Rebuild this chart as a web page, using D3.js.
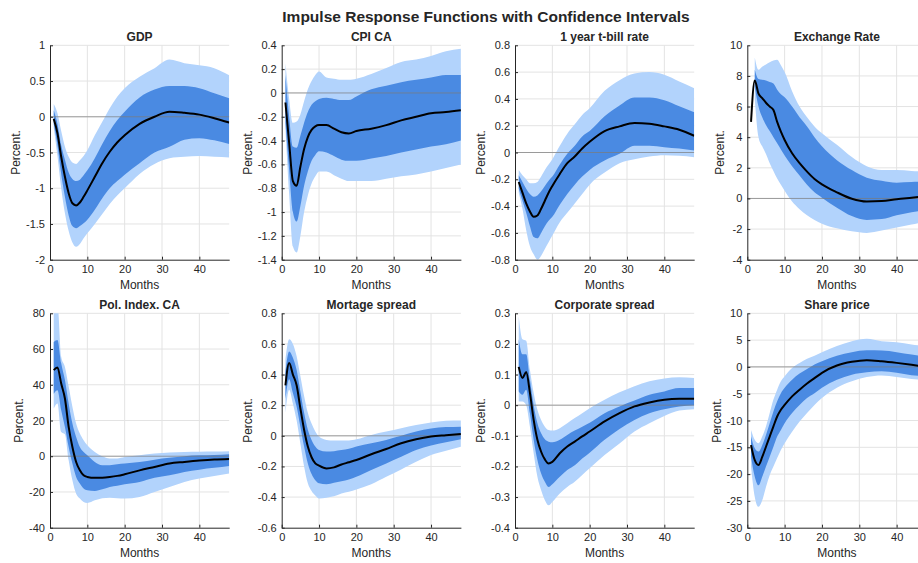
<!DOCTYPE html>
<html><head><meta charset="utf-8">
<script src="https://cdn.jsdelivr.net/npm/d3@7"></script>
<style>body{margin:0;background:#fff} svg{display:block;font-family:"Liberation Sans",Arial,Helvetica,sans-serif}</style>
</head><body><svg id="c" width="918" height="563"></svg>
<script>
// ---------- DATA ----------
const mainTitle = "Impulse Response Functions with Confidence Intervals";
const months = [1,2,3,4,5,6,7,8,9,10,12,14,16,18,20,24,28,32,36,40,44,48];
const xTicks = [0,10,20,30,40];
const titles = ["GDP","CPI CA","1 year t-bill rate","Exchange Rate","Pol. Index. CA","Mortage spread","Corporate spread","Share price"];

const gdpTicks = [-2,-1.5,-1,-0.5,0,0.5,1];
const gdpMed = [-0.03,-0.23,-0.56,-0.84,-1.07,-1.21,-1.24,-1.2,-1.12,-1.03,-0.84,-0.65,-0.49,-0.36,-0.26,-0.1,0.0,0.07,0.055,0.03,-0.02,-0.08];
const gdpOU = [0.18,0.05,-0.2,-0.42,-0.56,-0.64,-0.66,-0.61,-0.55,-0.47,-0.26,-0.07,0.12,0.28,0.4,0.56,0.68,0.8,0.75,0.72,0.68,0.58];
const gdpIU = [0.09,-0.1,-0.4,-0.6,-0.78,-0.87,-0.9,-0.88,-0.82,-0.75,-0.58,-0.38,-0.2,-0.05,0.07,0.27,0.38,0.43,0.43,0.4,0.33,0.26];
const gdpIL = [-0.1,-0.4,-0.8,-1.12,-1.38,-1.53,-1.56,-1.53,-1.49,-1.44,-1.3,-1.14,-1.0,-0.9,-0.81,-0.65,-0.5,-0.42,-0.32,-0.3,-0.33,-0.38];
const gdpOL = [-0.15,-0.55,-1.0,-1.35,-1.6,-1.76,-1.82,-1.78,-1.7,-1.63,-1.5,-1.36,-1.22,-1.1,-1.0,-0.8,-0.66,-0.58,-0.56,-0.55,-0.56,-0.57];

const cpiTicks = [-1.4,-1.2,-1,-0.8,-0.6,-0.4,-0.2,0,0.2,0.4];
const cpiMed = [-0.08,-0.42,-0.74,-0.78,-0.62,-0.47,-0.37,-0.31,-0.28,-0.27,-0.27,-0.3,-0.33,-0.34,-0.32,-0.3,-0.27,-0.23,-0.2,-0.17,-0.16,-0.145];
const cpiOU = [0.25,-0.05,-0.25,-0.24,-0.18,-0.07,0.03,0.1,0.15,0.18,0.13,0.12,0.11,0.11,0.12,0.16,0.21,0.26,0.28,0.31,0.35,0.37];
const cpiIU = [0.15,-0.2,-0.45,-0.46,-0.36,-0.25,-0.16,-0.1,-0.07,-0.05,-0.04,-0.05,-0.06,-0.06,-0.03,0.03,0.06,0.09,0.11,0.13,0.15,0.15];
const cpiIL = [-0.25,-0.65,-1.0,-1.08,-0.95,-0.78,-0.66,-0.57,-0.52,-0.49,-0.5,-0.53,-0.56,-0.57,-0.57,-0.55,-0.53,-0.5,-0.475,-0.45,-0.43,-0.4];
const cpiOL = [-0.3,-0.85,-1.29,-1.34,-1.2,-1.0,-0.86,-0.76,-0.7,-0.66,-0.66,-0.69,-0.72,-0.74,-0.74,-0.74,-0.72,-0.7,-0.685,-0.66,-0.63,-0.6];

const tbTicks = [-0.8,-0.6,-0.4,-0.2,0,0.2,0.4,0.6,0.8];
const tbMed = [-0.22,-0.3,-0.38,-0.44,-0.48,-0.47,-0.42,-0.36,-0.3,-0.25,-0.16,-0.08,-0.03,0.03,0.08,0.16,0.195,0.22,0.215,0.195,0.17,0.125];
const tbOU = [-0.13,-0.17,-0.2,-0.23,-0.23,-0.22,-0.18,-0.13,-0.09,-0.05,0.05,0.14,0.21,0.28,0.33,0.46,0.54,0.59,0.6,0.58,0.53,0.48];
const tbIU = [-0.17,-0.22,-0.27,-0.31,-0.33,-0.32,-0.29,-0.25,-0.21,-0.18,-0.09,-0.01,0.05,0.12,0.16,0.27,0.35,0.41,0.41,0.39,0.345,0.3];
const tbIL = [-0.27,-0.36,-0.45,-0.55,-0.63,-0.64,-0.6,-0.55,-0.51,-0.48,-0.39,-0.31,-0.24,-0.18,-0.13,-0.06,-0.01,0.05,0.05,0.04,0.03,0.015];
const tbOL = [-0.3,-0.42,-0.58,-0.7,-0.76,-0.8,-0.77,-0.72,-0.67,-0.62,-0.52,-0.45,-0.38,-0.31,-0.24,-0.15,-0.08,-0.05,-0.03,-0.02,-0.025,-0.035];

const exTicks = [-4,-2,0,2,4,6,8,10];
const exMed = [5.0,7.7,6.85,6.55,6.25,6.0,5.77,5.0,4.36,3.82,2.95,2.3,1.75,1.27,0.92,0.4,-0.02,-0.2,-0.17,-0.05,0.05,0.15];
const exOU = [null,9.2,8.4,8.6,8.75,8.9,9.0,9.05,8.7,8.25,7.0,6.0,5.3,4.7,4.25,3.5,2.7,2.1,1.85,1.85,1.8,1.75];
const exIU = [null,8.4,7.8,7.75,7.7,7.6,7.5,7.1,6.8,6.6,6.0,5.3,4.7,4.0,3.4,2.5,1.85,1.35,1.15,1.03,1.07,1.1];
const exIL = [null,7.3,6.0,5.3,4.8,4.4,4.0,3.6,3.2,2.8,2.1,1.5,0.9,0.4,0.05,-0.6,-1.15,-1.4,-1.35,-1.1,-0.9,-0.75];
const exOL = [null,6.5,4.0,3.4,2.9,2.3,1.8,1.3,0.9,0.5,-0.2,-0.7,-1.1,-1.4,-1.65,-1.95,-2.15,-2.25,-2.1,-1.9,-1.7,-1.5];

const polTicks = [-40,-20,0,20,40,60,80];
const polMed = [48.2,49.7,40.7,32.3,16.4,5.2,-3.2,-7.9,-10.7,-11.6,-12.1,-12.0,-11.6,-11.0,-10.1,-7.9,-6.0,-4.1,-3.2,-2.4,-1.8,-1.5];
const polOU = [85,85,55.7,50,39,27.7,18.3,12.7,9,6.2,2.4,0,-1.3,-1.2,-0.4,0.6,1.5,2.1,2.4,2.5,2.6,2.8];
const polIU = [64,65,52,42.6,29.5,18.3,10.8,5.2,2.4,0.6,-3.2,-5.0,-5.0,-4.5,-4.1,-3.2,-1.9,-0.9,0,0.5,0.7,1.1];
const polIL = [35,37,25.8,16.4,5.2,-4.1,-11.6,-15.3,-18.1,-19.1,-19.4,-18.5,-17.2,-16.5,-15.7,-14.4,-12.1,-10.7,-8.8,-7.5,-6.5,-5.4];
const polOL = [26.7,29.5,13.6,12.3,-2.2,-13.5,-21,-23.7,-25.6,-26.2,-24.7,-23.5,-23.2,-23.5,-23.7,-22.8,-20,-17.2,-14.4,-12.5,-11,-9.7];

const morTicks = [-0.6,-0.4,-0.2,0,0.2,0.4,0.6,0.8];
const morMed = [0.33,0.475,0.40,0.33,0.18,0.04,-0.07,-0.14,-0.18,-0.195,-0.213,-0.206,-0.187,-0.173,-0.158,-0.12,-0.086,-0.049,-0.023,-0.005,0.004,0.012];
const morOU = [0.5,0.63,0.6,0.52,0.39,0.26,0.15,0.08,0.028,-0.005,-0.027,-0.031,-0.03,-0.031,-0.023,0.006,0.028,0.05,0.071,0.087,0.098,0.1];
const morIU = [0.42,0.55,0.51,0.43,0.29,0.15,0.04,-0.027,-0.07,-0.093,-0.103,-0.1,-0.093,-0.085,-0.07,-0.049,-0.027,0,0.028,0.048,0.057,0.06];
const morIL = [0.24,0.37,0.28,0.19,0.06,-0.07,-0.18,-0.25,-0.29,-0.31,-0.316,-0.307,-0.296,-0.285,-0.268,-0.224,-0.18,-0.136,-0.093,-0.064,-0.042,-0.022];
const morOL = [0.15,0.3,0.21,0.1,-0.05,-0.2,-0.31,-0.36,-0.39,-0.41,-0.404,-0.395,-0.377,-0.366,-0.35,-0.316,-0.268,-0.22,-0.169,-0.125,-0.097,-0.071];

const corTicks = [-0.4,-0.3,-0.2,-0.1,0,0.1,0.2,0.3];
const corMed = [0.125,0.089,0.108,0.04,-0.048,-0.113,-0.152,-0.177,-0.19,-0.185,-0.157,-0.135,-0.119,-0.102,-0.086,-0.053,-0.026,-0.004,0.009,0.018,0.021,0.021];
const corOU = [0.29,0.215,0.21,0.116,0.04,-0.015,-0.048,-0.07,-0.081,-0.083,-0.075,-0.059,-0.042,-0.026,-0.01,0.018,0.042,0.062,0.078,0.087,0.091,0.089];
const corIU = [0.215,0.166,0.166,0.083,0,-0.059,-0.092,-0.111,-0.119,-0.121,-0.113,-0.097,-0.083,-0.07,-0.057,-0.026,-0.004,0.015,0.034,0.045,0.056,0.056];
const corIL = [0.045,0.034,0.05,-0.026,-0.113,-0.179,-0.223,-0.25,-0.267,-0.258,-0.234,-0.212,-0.196,-0.174,-0.155,-0.113,-0.078,-0.048,-0.026,-0.013,-0.004,0];
const corOL = [0.012,0.012,0,-0.07,-0.157,-0.234,-0.278,-0.31,-0.327,-0.316,-0.288,-0.267,-0.25,-0.228,-0.206,-0.163,-0.125,-0.086,-0.059,-0.035,-0.017,-0.013];

const shTicks = [-30,-25,-20,-15,-10,-5,0,5,10];
const shMed = [-14.6,-17.4,-18.3,-16.8,-14.9,-13,-11.1,-9.25,-8,-7.1,-5.5,-4.25,-3.1,-2.1,-1.1,0.25,0.95,1.25,1.05,0.75,0.4,0];
const shOU = [-11.75,-13.6,-14.25,-13,-11.1,-8.6,-6.1,-4.25,-2.7,-1.75,-0.2,0.75,1.5,2.1,2.75,3.9,4.8,5.25,4.8,4.6,4.2,3.9];
const shIU = [-13,-15.2,-15.8,-14.6,-12.7,-10.5,-8.3,-6.4,-4.9,-3.9,-2.4,-1.25,-0.4,0.45,1.05,2.1,2.75,3.1,3.05,2.75,2.3,1.9];
const shIL = [-16.75,-20.5,-22.1,-20.5,-18.6,-16.75,-14.9,-13,-11.75,-10.5,-8.6,-7.1,-5.8,-4.9,-3.9,-2.4,-1.45,-1.0,-0.8,-1.1,-1.55,-1.75];
const shOL = [-18.6,-24.25,-26.1,-24.9,-22.4,-20.2,-18.6,-17,-15.5,-14.25,-12.1,-10.2,-8.6,-7.1,-5.8,-3.9,-2.7,-1.9,-1.6,-1.9,-2.25,-2.5];

const panels = [
  {ticks:gdpTicks, med:gdpMed, ou:gdpOU, iu:gdpIU, il:gdpIL, ol:gdpOL},
  {ticks:cpiTicks, med:cpiMed, ou:cpiOU, iu:cpiIU, il:cpiIL, ol:cpiOL},
  {ticks:tbTicks, med:tbMed, ou:tbOU, iu:tbIU, il:tbIL, ol:tbOL},
  {ticks:exTicks, med:exMed, ou:exOU, iu:exIU, il:exIL, ol:exOL},
  {ticks:polTicks, med:polMed, ou:polOU, iu:polIU, il:polIL, ol:polOL},
  {ticks:morTicks, med:morMed, ou:morOU, iu:morIU, il:morIL, ol:morOL},
  {ticks:corTicks, med:corMed, ou:corOU, iu:corIU, il:corIL, ol:corOL},
  {ticks:shTicks, med:shMed, ou:shOU, iu:shIU, il:shIL, ol:shOL}
];

// ---------- LAYOUT / STYLE ----------
const colX = [50, 281.7, 515, 747.3], rowY = [45.3, 313.3];
const W = 179.2, H = 214.4;
const LIGHT = "#b2d3fc", DARK = "#4a8ae2", INK = "#262626", GRID = "#e3e3e3";
const svg = d3.select("#c");

svg.append("text").attr("x", 486).attr("y", 21.5).attr("text-anchor", "middle")
  .attr("font-size", 15.5).attr("font-weight", "bold").attr("fill", INK).text(mainTitle);

const fmt = v => String(+v.toFixed(2)).replace("−", "-");

panels.forEach((p, i) => {
  const x0 = colX[i % 4], y0 = rowY[Math.floor(i / 4)];
  const x = d3.scaleLinear().domain([0, 48]).range([x0, x0 + W]);
  const y = d3.scaleLinear().domain([p.ticks[0], p.ticks[p.ticks.length - 1]]).range([y0 + H, y0]);
  const g = svg.append("g");
  const cid = "clip" + i;
  g.append("clipPath").attr("id", cid).append("rect")
    .attr("x", x0).attr("y", y0).attr("width", W).attr("height", H);

  // grid
  g.append("g").selectAll("line.v").data(xTicks.filter(t => t > 0)).join("line")
    .attr("x1", d => x(d)).attr("x2", d => x(d)).attr("y1", y0).attr("y2", y0 + H)
    .attr("stroke", GRID).attr("stroke-width", 1);
  g.append("g").selectAll("line.h").data(p.ticks.slice(1)).join("line")
    .attr("x1", x0).attr("x2", x0 + W).attr("y1", d => y(d)).attr("y2", d => y(d))
    .attr("stroke", GRID).attr("stroke-width", 1);

  const rows = months.map((m, k) => ({m, med:p.med[k], ou:p.ou[k], iu:p.iu[k], il:p.il[k], ol:p.ol[k]}));
  const curve = d3.curveMonotoneX;
  const plot = g.append("g").attr("clip-path", `url(#${cid})`);
  plot.append("path").datum(rows).attr("fill", LIGHT)
    .attr("d", d3.area().defined(d => d.ou != null).curve(curve).x(d => x(d.m)).y0(d => y(d.ol)).y1(d => y(d.ou)));
  plot.append("path").datum(rows).attr("fill", DARK)
    .attr("d", d3.area().defined(d => d.iu != null).curve(curve).x(d => x(d.m)).y0(d => y(d.il)).y1(d => y(d.iu)));
  plot.append("line").attr("x1", x0).attr("x2", x0 + W).attr("y1", y(0)).attr("y2", y(0))
    .attr("stroke", "#7a7a7a").attr("stroke-opacity", 0.7).attr("stroke-width", 1);
  plot.append("path").datum(rows).attr("fill", "none").attr("stroke", "#000").attr("stroke-width", 2)
    .attr("stroke-linejoin", "round")
    .attr("d", d3.line().curve(curve).x(d => x(d.m)).y(d => y(d.med)));

  // axes
  const ax = g.append("g").attr("transform", `translate(0,${y0 + H})`)
    .call(d3.axisBottom(x).tickValues(xTicks).tickSizeInner(-3).tickSizeOuter(0).tickPadding(6).tickFormat(d3.format("d")));
  const ay = g.append("g").attr("transform", `translate(${x0},0)`)
    .call(d3.axisLeft(y).tickValues(p.ticks).tickSizeInner(-3).tickSizeOuter(0).tickPadding(5).tickFormat(fmt));
  [ax, ay].forEach(a => {
    a.select(".domain").attr("stroke", INK).attr("stroke-width", 1);
    a.selectAll(".tick line").attr("stroke", INK);
    a.selectAll("text").attr("fill", INK).attr("font-size", 11).attr("font-family", '"Liberation Sans",Arial,sans-serif');
  });
  ax.selectAll("text").attr("dy", "0.71em");
  let maxW = 0;
  ay.selectAll("text").each(function () { maxW = Math.max(maxW, this.getComputedTextLength()); });

  g.append("text").attr("x", x0 + W / 2).attr("y", y0 - 4).attr("text-anchor", "middle")
    .attr("font-size", 12).attr("font-weight", "bold").attr("fill", INK).text(titles[i]);
  g.append("text").attr("x", x0 + W / 2).attr("y", y0 + H + 29.5).attr("text-anchor", "middle")
    .attr("font-size", 12).attr("fill", INK).text("Months");
  const lx = x0 - 5 - maxW - 10, ly = y0 + H / 2;
  g.append("text").attr("transform", `translate(${lx},${ly}) rotate(-90)`).attr("text-anchor", "middle")
    .attr("dy", "0.35em").attr("font-size", 12).attr("fill", INK).text("Percent.");
});
</script></body></html>
